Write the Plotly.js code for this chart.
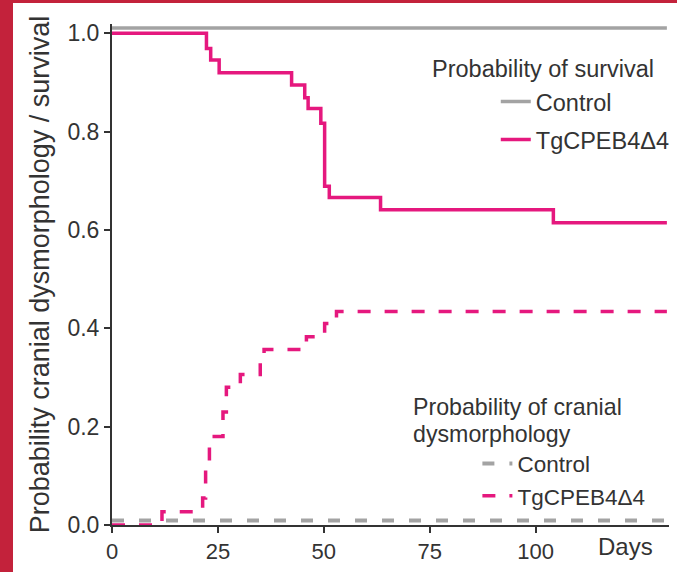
<!DOCTYPE html>
<html>
<head>
<meta charset="utf-8">
<script src="https://cdn.plot.ly/plotly-3.0.1.min.js"></script>
<style>
  html, body { margin: 0; padding: 0; background: #fff; }
  #wrap { position: relative; width: 677px; height: 572px; overflow: hidden; }
  #chart { width: 677px; height: 572px; }
  .bl { position: absolute; left: 0; top: 0; width: 13px; height: 572px; background: #c3223b; pointer-events: none; }
  .bt { position: absolute; left: 0; top: 0; width: 677px; height: 3px; background: #c3223b; pointer-events: none; }
</style>
</head>
<body>
<div id="wrap">
  <div id="chart"></div>
  <div class="bl"></div>
  <div class="bt"></div>
</div>
<script>
// ---- data ----
var survControlDays = [0, 131];
var survControlProb = [1.011, 1.011];

var survTgDays = [0, 22.3, 23.3, 25.3, 42.4, 45.5, 46.3, 49.3, 50.2, 51.3, 63.4, 104.2, 131];
var survTgProb = [1.0, 0.969, 0.946, 0.920, 0.895, 0.869, 0.847, 0.817, 0.689, 0.666, 0.641, 0.615, 0.615];

var dysControlDays = [0, 131];
var dysControlProb = [0.009, 0.009];

var dysTgDays = [0, 11.8, 21.4, 22.1, 23.0, 26.2, 27.0, 30.3, 35.0, 35.9, 45.9, 50.2, 53.0, 131];
var dysTgProb = [0, 0.027, 0.055, 0.129, 0.180, 0.230, 0.280, 0.306, 0.332, 0.357, 0.383, 0.410, 0.434, 0.434];

var xTicks = [0, 25, 50, 75, 100];
var yTicks = [0, 0.2, 0.4, 0.6, 0.8, 1.0];
var yTickText = ['0.0', '0.2', '0.4', '0.6', '0.8', '1.0'];

var seriesNames = ['Control', 'TgCPEB4\u03944'];
var titleText = 'Probability cranial dysmorphology / survival';
var survHeading = 'Probability of survival';
var dysHeadingLines = ['Probability of cranial', 'dysmorphology'];
var xLabel = 'Days';

// ---- styles ----
var PINK = '#e5187e';
var GRAY = '#a3a3a3';
var TXT = '#333333';
var FONT = 'Liberation Sans, Arial, sans-serif';

var traces = [
  {x: survControlDays, y: survControlProb, mode: 'lines', name: seriesNames[0],
   line: {color: GRAY, width: 3.5}, legend: 'legend', legendgroup: 'a'},
  {x: survTgDays, y: survTgProb, mode: 'lines', name: seriesNames[1],
   line: {color: PINK, width: 3.5, shape: 'hv'}, legend: 'legend', legendgroup: 'b'},
  {x: dysControlDays, y: dysControlProb, mode: 'lines', name: seriesNames[0],
   line: {color: GRAY, width: 4, dash: '12px,15px'}, legend: 'legend2'},
  {x: dysTgDays, y: dysTgProb, mode: 'lines', name: seriesNames[1],
   line: {color: PINK, width: 3.5, dash: '13px,14px', shape: 'hv'}, legend: 'legend2'}
];

var layout = {
  width: 677, height: 572,
  margin: {l: 112, r: 8, t: 24, b: 47, autoexpand: false},
  paper_bgcolor: '#ffffff', plot_bgcolor: '#ffffff',
  font: {family: FONT, color: TXT, size: 22},
  showlegend: true,
  xaxis: {
    range: [0, 131.5], tickvals: xTicks, ticktext: xTicks.map(String),
    showgrid: false, zeroline: false, showline: true, linecolor: '#333', linewidth: 2,
    ticks: 'outside', ticklen: 6, tickwidth: 2, tickcolor: '#333',
    tickfont: {size: 22, color: TXT, family: FONT}
  },
  yaxis: {
    range: [0, 1.019], tickvals: yTicks, ticktext: yTickText,
    showgrid: false, zeroline: false, showline: true, linecolor: '#333', linewidth: 2,
    ticks: 'outside', ticklen: 6, tickwidth: 2, tickcolor: '#333',
    tickfont: {size: 23, color: TXT, family: FONT},
    title: {text: titleText, font: {size: 27, color: TXT, family: FONT}, standoff: 10}
  },
  legend: {
    x: 0.689, y: 0.889, xanchor: 'left', yanchor: 'top',
    bgcolor: 'rgba(0,0,0,0)', font: {size: 23.5, color: TXT, family: FONT},
    traceorder: 'grouped', tracegroupgap: 4.5
  },
  legend2: {
    x: 0.656, y: 0.1647, xanchor: 'left', yanchor: 'top',
    bgcolor: 'rgba(0,0,0,0)', font: {size: 22.5, color: TXT, family: FONT}
  },
  annotations: [
    {text: survHeading, xref: 'paper', yref: 'paper', x: 0.571, y: 0.911,
     xanchor: 'left', yanchor: 'middle', showarrow: false, font: {size: 23.5, color: TXT, family: FONT}},
    {text: dysHeadingLines[0], xref: 'paper', yref: 'paper', x: 0.5368, y: 0.2355,
     xanchor: 'left', yanchor: 'middle', showarrow: false, font: {size: 23.2, color: TXT, family: FONT}},
    {text: dysHeadingLines[1], xref: 'paper', yref: 'paper', x: 0.5368, y: 0.1816,
     xanchor: 'left', yanchor: 'middle', showarrow: false, font: {size: 23.2, color: TXT, family: FONT}},
    {text: xLabel, xref: 'paper', yref: 'paper', x: 0.975, y: -0.042,
     xanchor: 'right', yanchor: 'middle', showarrow: false, font: {size: 24, color: TXT, family: FONT}}
  ]
};

Plotly.newPlot('chart', traces, layout, {displayModeBar: false, staticPlot: true});
</script>
</body>
</html>
